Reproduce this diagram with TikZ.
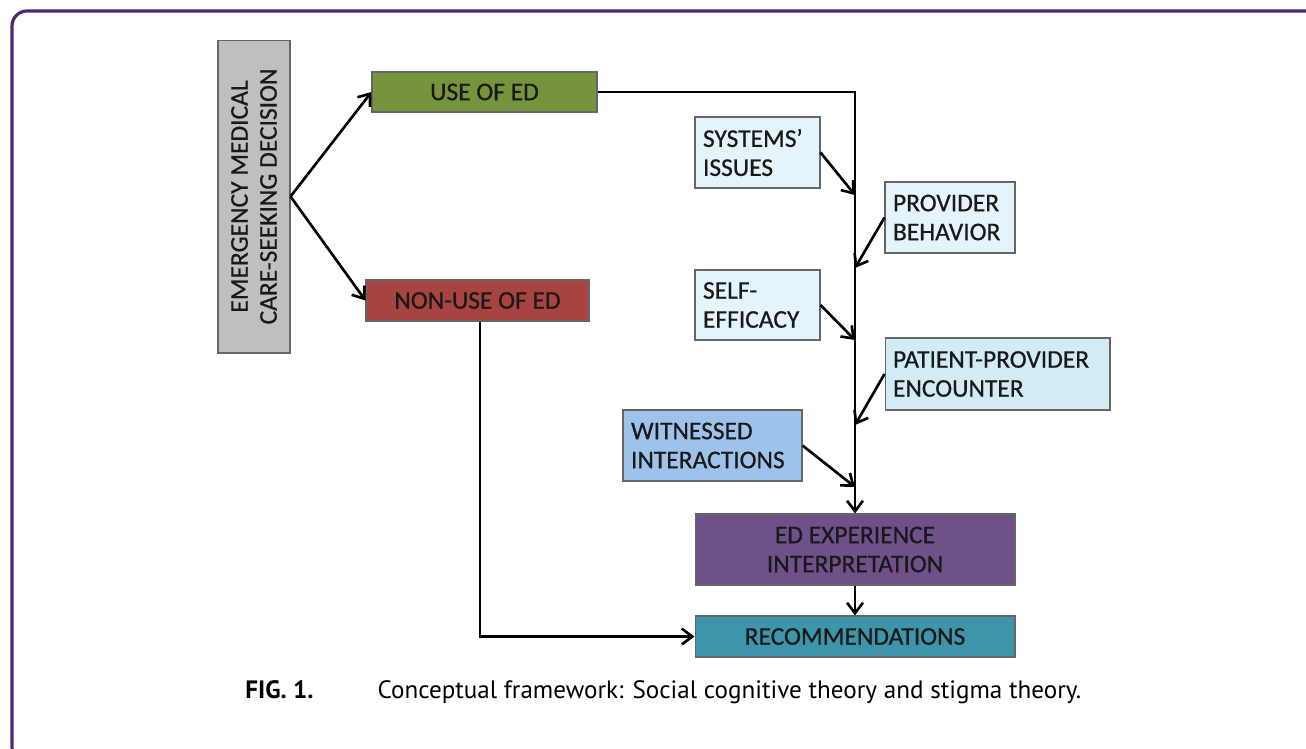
\documentclass[tikz,border=0pt]{standalone}
\usepackage{fontspec}
\setmainfont[FakeBold=0.6]{Carlito}
\newfontfamily\capfont{PT Sans}
\usepackage{tikz}
\usetikzlibrary{positioning,arrows.meta}

\definecolor{framepurple}{HTML}{4B2A78}
\definecolor{decgray}{HTML}{BFBFBF}
\definecolor{usegreen}{HTML}{77933C}
\definecolor{nonred}{HTML}{A8443F}
\definecolor{paleblue}{HTML}{E4F4FA}
\definecolor{midblue}{HTML}{D2ECF6}
\definecolor{witblue}{HTML}{9EC3EA}
\definecolor{expurple}{HTML}{6F5189}
\definecolor{recteal}{HTML}{3D95A9}

\begin{document}
\begin{tikzpicture}[x=0.02cm, y=-0.02cm,
    box/.style={draw=black!60, line width=0.6pt, inner sep=0pt, text=black!90,
        font=\fontsize{14.5}{16.5}\selectfont\addfontfeature{FakeBold=0.6}},
    sidebox/.style={box, align=left, inner xsep=0.16cm},
    link/.style={line width=1.5pt, -{Straight Barb[length=6pt, width=9pt, line width=1.5pt]}}]
    \useasboundingbox (0,0) rectangle (1306,748);
    \clip (0,0) rectangle (1306,748);

    % outer frame
    \path[draw=framepurple, line width=1.8pt, rounded corners=0.3cm] (12,11) rectangle (1340,762);

    % decision and the two branches
    \node[box, fill=decgray, rotate=90, minimum width=6.26cm, minimum height=1.44cm, align=center] (decision) at (254,196.5) {EMERGENCY MEDICAL\\CARE-SEEKING DECISION};
    \node[box, fill=usegreen, minimum width=4.5cm, minimum height=0.8cm] (useed) at (484.5,92) {USE OF ED};
    \node[box, fill=nonred, minimum width=4.46cm, minimum height=0.82cm] (nonuse) at (477.5,300.5) {NON-USE OF ED};

    % factors along the way
    \node[sidebox, fill=paleblue, text width=2.18cm, minimum height=1.42cm] (systems) at (757.5,152.5) {SYSTEMS'\\ISSUES};
    \node[sidebox, fill=paleblue, text width=2.28cm, minimum height=1.42cm] (provider) at (950,217.5) {PROVIDER\\BEHAVIOR};
    \node[sidebox, fill=paleblue, text width=2.18cm, minimum height=1.4cm] (selfeff) at (757.5,305) {SELF-\\EFFICACY};
    \node[sidebox, fill=midblue, text width=4.18cm, minimum height=1.44cm] (encounter) at (997.5,374) {PATIENT-PROVIDER\\ENCOUNTER};
    \node[sidebox, fill=witblue, text width=3.26cm, minimum height=1.42cm] (witnessed) at (712.5,445.5) {WITNESSED\\INTERACTIONS};

    % outcome
    \node[box, fill=expurple, minimum width=6.4cm, minimum height=1.42cm, align=center] (experience) at (855,549.5) {ED EXPERIENCE\\INTERPRETATION};
    \node[box, fill=recteal, minimum width=6.4cm, minimum height=0.82cm] (recommend) at (855,636.5) {RECOMMENDATIONS};

    \coordinate (topbend) at (855,92);
    \coordinate (botbend) at (480,636.5);
    \coordinate (j1) at (855,195);
    \coordinate (j2) at (855,268);
    \coordinate (j3) at (855,340);
    \coordinate (j4) at (855,425);
    \coordinate (j5) at (855,487);

    % branches
    \path[draw, link] (decision.south) -- (useed.west);
    \path[draw, link] (decision.south) -- (nonuse.west);

    % main stem
    \path[draw, link] (useed.east) -- (topbend) -- (experience.north);
    \path[draw, link] (experience.south) -- (recommend.north);
    \path[draw, link] (nonuse.south -| botbend) -- (botbend) -- (recommend.west);

    % factors into the stem
    \path[draw, link] (systems.east) -- (j1);
    \path[draw, link] (provider.west) -- (j2);
    \path[draw, link] (selfeff.east) -- (j3);
    \path[draw, link] (encounter.west) -- (j4);
    \path[draw, link] (witnessed.east) -- (j5);

    % caption
    \node[anchor=base west, font=\capfont\fontsize{14.3}{16}\selectfont, inner sep=0pt] (caption) at (245,698) {\textbf{FIG. 1.}\hspace{2.55em}Conceptual framework: Social cognitive theory and stigma theory.};
\end{tikzpicture}
\end{document}
